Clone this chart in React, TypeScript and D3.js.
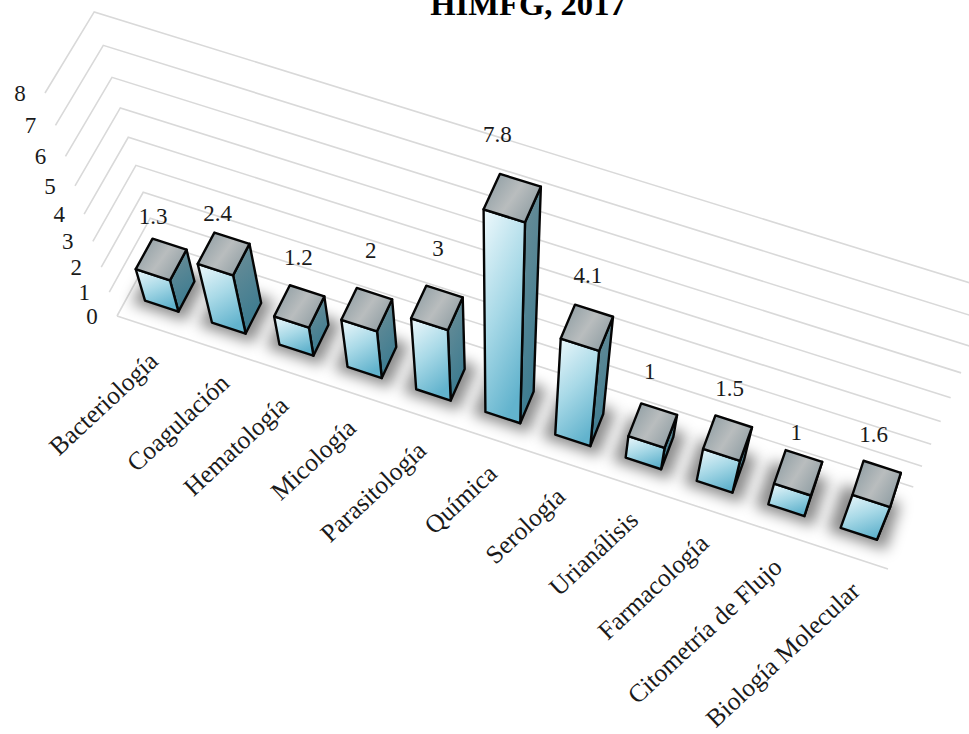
import * as d3 from "d3";

const categories = ["Bacteriología", "Coagulación", "Hematología", "Micología", "Parasitología", "Química", "Serología", "Urianálisis", "Farmacología", "Citometría de Flujo", "Biología Molecular"];
const values = [1.3, 2.4, 1.2, 2, 3, 7.8, 4.1, 1, 1.5, 1, 1.6];
const valueLabels = ["1.3", "2.4", "1.2", "2", "3", "7.8", "4.1", "1", "1.5", "1", "1.6"];
const yTicks = [0, 1, 2, 3, 4, 5, 6, 7, 8];

// nudges for the data labels, relative to the middle of each bar's top
const labelShift = [[-8, -43], [-6, -41], [-1, -49], [4, -60], [1, -60], [-15, -64], [1, -53], [-3, -55], [2, -50], [-2, -41], [-3, -50]];
// nudges for the category labels along the floor's front edge
const tickShift = [9, 13, 4, 3, 4, 5, 3, 5, 4, 5, 10];

const width = 969;
const height = 734;

// perspective box: image of the origin and of the three unit axes
const O = [117, 316];
const PU = [888, 569];
const PV = [157, 243];
const PW = [45, 93];
const a = 0.954;
const b = 1.021;
const c = 0.84;

function project(u: number, v: number, w: number): [number, number] {
    const d = 1 + u * (a - 1) + v * (b - 1) + w * (c - 1);
    const x = O[0] + u * (a * PU[0] - O[0]) + v * (b * PV[0] - O[0]) + w * (c * PW[0] - O[0]);
    const y = O[1] + u * (a * PU[1] - O[1]) + v * (b * PV[1] - O[1]) + w * (c * PW[1] - O[1]);
    return [x / d, y / d];
}

const scU = d3.scaleBand<string>().domain(categories).range([0, 1]).paddingInner(0.5).paddingOuter(0.25);
const scW = d3.scaleLinear().domain([0, 8]).range([0, 1]);
const vFront = 0.28;
const vBack = 0.69;

const line = d3.line();
const closed = d3.line().curve(d3.curveLinearClosed);

export default function App() {
    const serif = "'Liberation Serif', 'Times New Roman', serif";
    return (
        <svg width={width} height={height} viewBox={`0 0 ${width} ${height}`} style={{ position: "absolute", left: 0, top: 0, background: "#fff" }} fontFamily={serif}>
            <defs>
                <linearGradient id="front" x1="0.1" y1="0" x2="0.5" y2="1">
                    <stop offset="0" stopColor="#eaf7fb" />
                    <stop offset="0.5" stopColor="#a8d9e7" />
                    <stop offset="1" stopColor="#62b3cd" />
                </linearGradient>
                <linearGradient id="side" x1="0" y1="0" x2="0.3" y2="1">
                    <stop offset="0" stopColor="#6f8f98" />
                    <stop offset="1" stopColor="#3b7b90" />
                </linearGradient>
                <linearGradient id="top" x1="0" y1="0.2" x2="1" y2="0.8">
                    <stop offset="0" stopColor="#8d9ca2" />
                    <stop offset="0.5" stopColor="#b9bdbe" />
                    <stop offset="1" stopColor="#8b9aa0" />
                </linearGradient>
                <filter id="blur" x="-60%" y="-60%" width="220%" height="220%">
                    <feGaussianBlur stdDeviation="7" />
                </filter>
            </defs>

            <g fill="none" stroke="#d9d9d9" strokeWidth={1.6}>
                {yTicks.map((t) => (
                    <path key={t} d={line([project(0, 0, scW(t)), project(0, 1, scW(t)), project(1, 1, scW(t))]) ?? ""} />
                ))}
                <path d={line([project(0, 0, 0), project(1, 0, 0)]) ?? ""} />
            </g>

            <g fontSize={23} fill="#1a1a1a" textAnchor="middle">
                {yTicks.map((t) => {
                    const [x, y] = project(0, 0, scW(t));
                    return <text key={t} x={x - 25} y={y + 8}>{t}</text>;
                })}
            </g>

            {categories.map((cat) => {
                const u0 = scU(cat) ?? 0;
                const u1 = u0 + scU.bandwidth();
                const pad = 0.014;
                return (
                    <path key={cat} filter="url(#blur)" fill="#000" fillOpacity={0.45}
                        d={closed([project(u0 - pad, vFront - 0.08, 0), project(u1 + pad, vFront - 0.08, 0), project(u1 + pad, vBack + 0.08, 0), project(u0 - pad, vBack + 0.08, 0)]) ?? ""} />
                );
            })}

            {categories.map((cat, i) => {
                const u0 = scU(cat) ?? 0;
                const u1 = u0 + scU.bandwidth();
                const w = scW(values[i]);
                const face = (pts: [number, number, number][]) => closed(pts.map((p) => project(p[0], p[1], p[2]))) ?? "";
                return (
                    <g key={cat} stroke="#050505" strokeWidth={2.4} strokeLinejoin="round">
                        <path fill="url(#side)" d={face([[u1, vFront, 0], [u1, vBack, 0], [u1, vBack, w], [u1, vFront, w]])} />
                        <path fill="url(#front)" d={face([[u0, vFront, 0], [u1, vFront, 0], [u1, vFront, w], [u0, vFront, w]])} />
                        <path fill="url(#top)" d={face([[u0, vFront, w], [u1, vFront, w], [u1, vBack, w], [u0, vBack, w]])} />
                    </g>
                );
            })}

            <g fontSize={23} fill="#1a1a1a" textAnchor="middle">
                {categories.map((cat, i) => {
                    const u = (scU(cat) ?? 0) + scU.bandwidth() / 2;
                    const [x, y] = project(u, (vFront + vBack) / 2, scW(values[i]));
                    return <text key={cat} x={x + labelShift[i][0]} y={y + labelShift[i][1] + 8}>{valueLabels[i]}</text>;
                })}
            </g>

            <g fontSize={25.5} fill="#1a1a1a" textAnchor="end">
                {categories.map((cat, i) => {
                    const u = (scU(cat) ?? 0) + scU.bandwidth() / 2;
                    const [x, y] = project(u, 0, 0);
                    return <text key={cat} transform={`translate(${x + tickShift[i]},${y + 36}) rotate(-43)`}>{cat}</text>;
                })}
            </g>

            <text x={528} y={15} textAnchor="middle" fontSize={32.6} fontWeight="bold" fill="#000">HIMFG, 2017</text>
        </svg>
    );
}
